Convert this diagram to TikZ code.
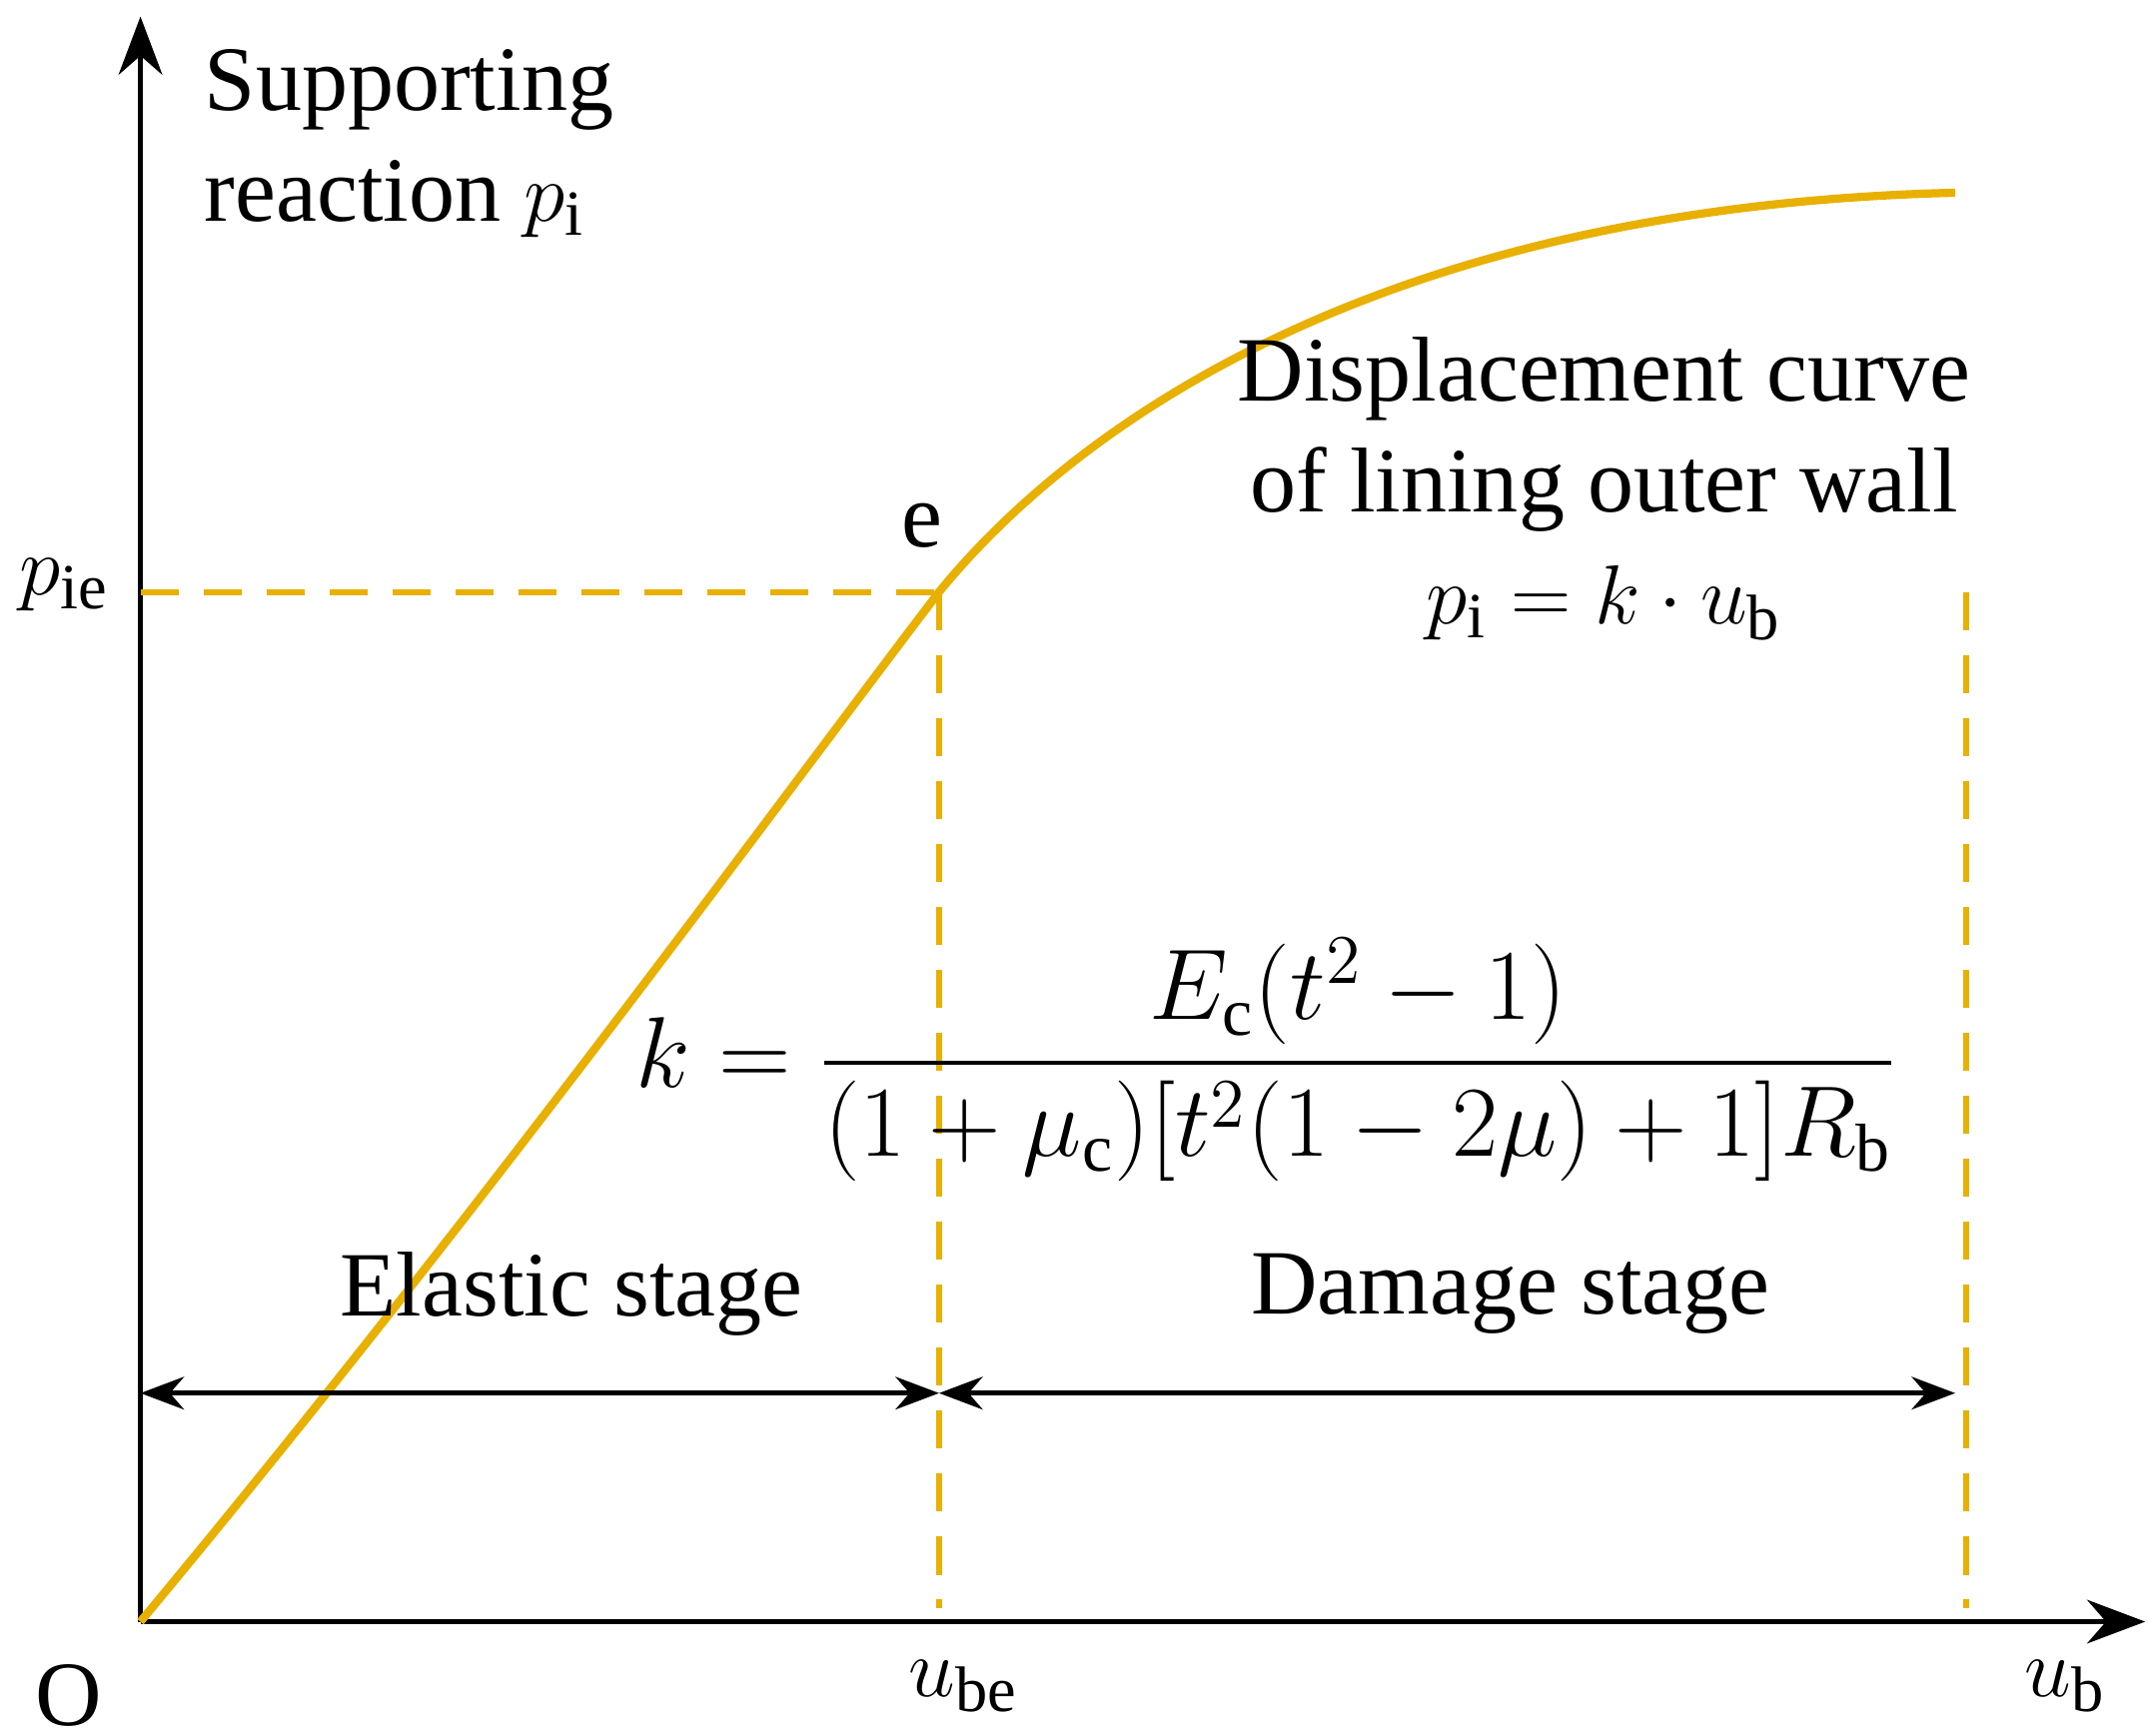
\documentclass[tikz,border=0pt]{standalone}
\usepackage{amsmath}
\usepackage{fontspec}
\setmainfont{Liberation Serif}
\usetikzlibrary{arrows.meta}
\definecolor{cur}{HTML}{E8B000}
\begin{document}
\begin{tikzpicture}[x=0.01cm,y=-0.01cm,
  lab/.style={font=\fontsize{19}{23}\selectfont, inner sep=0pt},
  dsh/.style={cur, line width=1.2pt, dash pattern=on 8pt off 5pt},
  dim/.style={line width=1pt, {Stealth[length=9pt]}-{Stealth[length=9pt]}}]
\useasboundingbox (0,0) rectangle (1560,1261);
\coordinate (O) at (102,1178);
\coordinate (yt) at (102,12);
\coordinate (xr) at (1558,1178);
\coordinate (e) at (682,430);
\coordinate (end) at (1420,140);
\coordinate (pie) at (102,430);
\coordinate (ebot) at (682,1168);
\coordinate (rtop) at (1428,430);
\coordinate (rbot) at (1428,1168);
\coordinate (a1) at (102,1012);
\coordinate (a2) at (682,1012);
\coordinate (a3) at (1420,1012);
\draw[line width=1.2pt,-{Stealth[length=12pt]}] (O) -- (yt);
\draw[line width=1.2pt,-{Stealth[length=12pt]}] (O) -- (xr);
\draw[dsh] (pie) -- (e);
\draw[dsh] (e) -- (ebot);
\draw[dsh] (rtop) -- (rbot);
\draw[cur, line width=1.7pt] (O) .. controls (350,880) and (560,590) .. (e)
  .. controls (780,310) and (1000,150) .. (end);
\draw[dim] (a1) -- (a2);
\draw[dim] (a2) -- (a3);
\node[lab, align=left, anchor=north west] (yl) at (148,35) {Supporting\\reaction $p_{\mathrm{i}}$};
\node[lab] (lpie) at (47,425) {$p_{\mathrm{ie}}$};
\node[lab] (le) at (670,382) {e};
\node[lab, align=center] (dc) at (1165,355) {Displacement curve\\of lining outer wall\\$p_{\mathrm{i}}=k\cdot u_{\mathrm{b}}$};
\node[lab, font=\fontsize{20}{24}\selectfont] (kf) at (920,770) {$k=\dfrac{E_{\mathrm{c}}(t^2-1)}{(1+\mu_{\mathrm{c}})[t^2(1-2\mu)+1]R_{\mathrm{b}}}$};
\node[lab] (es) at (415,940) {Elastic stage};
\node[lab] (ds) at (1097,940) {Damage stage};
\node[lab] (lO) at (50,1232) {O};
\node[lab] (lube) at (700,1225) {$u_{\mathrm{be}}$};
\node[lab] (lub) at (1500,1225) {$u_{\mathrm{b}}$};
\end{tikzpicture}
\end{document}
